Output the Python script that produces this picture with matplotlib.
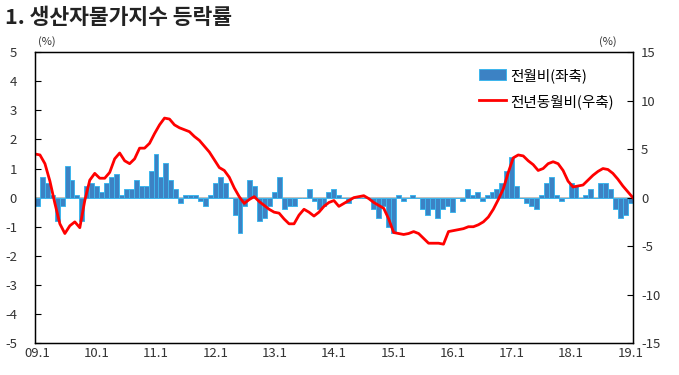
import numpy as np
import matplotlib
matplotlib.use('Agg')
import matplotlib.pyplot as plt

plt.rcParams['font.family'] = ['Noto Sans CJK KR', 'DejaVu Sans']
plt.rcParams['axes.unicode_minus'] = False

# 전월비 (좌축), 2009.1 ~ 2019.1 월별
mom = [-0.3, 0.7, 0.5, 0.1, -0.8, -0.3, 1.1, 0.6, 0.1, -0.8, 0.4, 0.5,
       0.4, 0.2, 0.5, 0.7, 0.8, 0.1, 0.3, 0.3, 0.6, 0.4, 0.4, 0.9,
       1.5, 0.7, 1.2, 0.6, 0.3, -0.2, 0.1, 0.1, 0.1, -0.1, -0.3, 0.1,
       0.5, 0.7, 0.5, 0.0, -0.6, -1.2, -0.3, 0.6, 0.4, -0.8, -0.7, -0.3,
       0.2, 0.7, -0.4, -0.3, -0.3, 0.0, 0.0, 0.3, -0.1, -0.4, -0.3, 0.2,
       0.3, 0.1, 0.0, -0.2, 0.0, 0.0, 0.0, 0.0, -0.4, -0.7, -0.3, -1.0,
       -1.2, 0.1, -0.1, 0.0, 0.1, 0.0, -0.4, -0.6, -0.4, -0.7, -0.4, -0.3,
       -0.5, 0.0, -0.1, 0.3, 0.1, 0.2, -0.1, 0.1, 0.2, 0.3, 0.5, 0.9,
       1.4, 0.4, 0.0, -0.2, -0.3, -0.4, 0.1, 0.5, 0.7, 0.1, -0.1, 0.0,
       0.5, 0.4, 0.0, 0.1, 0.3, 0.0, 0.5, 0.5, 0.3, -0.4, -0.7, -0.6,
       -0.2]

# 전년동월비 (우축)
yoy = [4.5, 4.4, 3.5, 1.7, -0.6, -2.7, -3.7, -2.9, -2.5, -3.1, -0.3, 1.8,
       2.5, 2.0, 2.0, 2.6, 4.0, 4.6, 3.8, 3.5, 4.0, 5.1, 5.1, 5.6,
       6.6, 7.5, 8.2, 8.1, 7.5, 7.2, 7.0, 6.8, 6.3, 5.9, 5.3, 4.7,
       3.9, 3.1, 2.8, 2.1, 1.0, 0.1, -0.6, -0.2, 0.1, -0.4, -0.8, -1.2,
       -1.5, -1.6, -2.2, -2.7, -2.7, -1.8, -1.2, -1.5, -1.9, -1.5, -0.9, -0.5,
       -0.3, -0.9, -0.6, -0.3, 0.0, 0.1, 0.2, -0.1, -0.5, -0.8, -1.1, -2.2,
       -3.6, -3.7, -3.8, -3.7, -3.5, -3.7, -4.2, -4.7, -4.7, -4.7, -4.8, -3.5,
       -3.4, -3.3, -3.2, -3.0, -3.0, -2.8, -2.5, -2.0, -1.2, -0.2, 0.9, 2.6,
       4.1, 4.4, 4.3, 3.8, 3.4, 2.8, 3.0, 3.5, 3.7, 3.5, 2.8, 1.7,
       1.1, 1.2, 1.3, 1.8, 2.3, 2.7, 3.0, 2.9, 2.5, 1.9, 1.2, 0.6,
       0.0]

xlabels = ['09.1', '10.1', '11.1', '12.1', '13.1', '14.1',
           '15.1', '16.1', '17.1', '18.1', '19.1']

n = len(mom)
x = np.arange(n)
# 선은 축 끝에서 끝까지 그려짐
xl = np.linspace(-0.5, n - 0.5, len(yoy))

fig = plt.figure(figsize=(6.79, 3.75), dpi=100)
ax = fig.add_axes([0.0515, 0.085, 0.8805, 0.776])
ax2 = ax.twinx()

ax.axhline(0, color='#b4b4b4', lw=1.2, zorder=1)
ax.bar(x, mom, width=1.0, color='#3c82c4', edgecolor='#3cb6ee', lw=0.7,
       zorder=2, label='전월비(좌축)')
ax2.plot(xl, yoy, color='#ff0000', lw=2.0, label='전년동월비(우축)')

ax.set_xlim(-0.5, n - 0.5)
ax.set_ylim(-5, 5)
ax2.set_ylim(-15, 15)
ax.set_yticks(range(-5, 6))
ax2.set_yticks(range(-15, 16, 5))
ax.set_xticks(np.arange(0, n, 12))
ax.set_xticklabels(xlabels)

ax.tick_params(axis='y', direction='in', length=4, pad=13, labelsize=9.5,
               labelcolor='#333333')
ax2.tick_params(axis='y', direction='in', length=4, pad=6, labelsize=9.5,
                labelcolor='#333333')
ax.tick_params(axis='x', length=0, pad=3, labelsize=9.5, labelcolor='#333333')
for sp in ax2.spines.values():
    sp.set_linewidth(1.0)

fig.text(0.008, 0.952, '1. 생산자물가지수 등락률', fontsize=15.5,
         fontweight='semibold', va='center', ha='left', color='#222222')
fig.text(0.056, 0.888, '(%)', fontsize=8, va='center', color='#333333')
fig.text(0.882, 0.888, '(%)', fontsize=8, va='center', color='#333333')

h1, l1 = ax.get_legend_handles_labels()
h2, l2 = ax2.get_legend_handles_labels()
leg = ax2.legend(h1 + h2, l1 + l2, loc='upper right', bbox_to_anchor=(0.99, 0.99),
                 frameon=False, fontsize=10.5, handlelength=1.8, handleheight=0.8,
                 labelspacing=0.75, handletextpad=0.3)

fig.savefig('out.png', dpi=100)
